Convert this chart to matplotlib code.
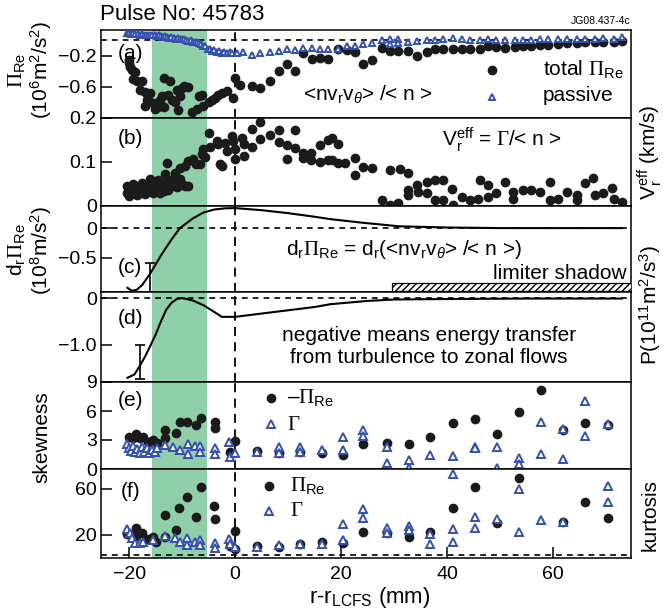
import matplotlib
matplotlib.use("Agg")
import matplotlib.pyplot as plt
from matplotlib.patches import Rectangle

plt.rcParams['font.family'] = ['Liberation Sans', 'DejaVu Sans']
plt.rcParams['mathtext.fontset'] = 'custom'
plt.rcParams['mathtext.rm'] = 'Liberation Sans'
plt.rcParams['mathtext.it'] = 'Liberation Sans:italic'
plt.rcParams['mathtext.bf'] = 'Liberation Sans:bold'
plt.rcParams['mathtext.cal'] = 'Liberation Serif'

# ---- data ----
# (a) total Reynolds stress
a_tot_x = [-20.1, -20.1, -19.8, -19.5, -18.9, -19.2, -18.6, -17.6, -17.9, -17.0, -16.0, -16.4, -16.7,
           -17.0, -15.4, -15.1, -14.5, -14.2, -13.5, -12.3, -13.8, -12.6, -11.9, -13.5, -11.0, -10.1,
           -9.7, -8.8, -11.3, -10.7, -10.4, -8.2, -7.2, -6.9, -6.3, -6.0, -5.0, -4.4, -3.8, -3.2, -2.5,
           -1.6, -0.3, 0.0, 0.9, 3.2, 4.7, 6.6, 8.2, 9.8, 11.3, 12.9, 14.5, 16.0, 17.6, 19.5, 21.1, 22.6,
           24.2, 25.8, 27.7, 29.2, 30.8, 32.7, 34.4, 36.2, 37.7, 39.3, 41.2, 42.8, 44.3, 46.2, 47.8, 49.3,
           50.9, 52.8, 54.4, 55.9, 57.5, 59.1, 61.0, 62.6, 64.5, 66.0, 67.9, 69.5, 71.4, 73.0]
a_tot_y = [-0.26, -0.30, -0.35, -0.38, -0.41, -0.50, -0.52, -0.52, -0.64, -0.66, -0.68, -0.72, -0.77,
           -0.84, -0.81, -0.88, -0.86, -0.77, -0.48, -0.52, -0.72, -0.70, -0.77, -0.86, -0.64, -0.61,
           -0.59, -0.60, -0.79, -0.90, -0.72, -0.92, -0.88, -0.72, -0.70, -0.84, -0.79, -0.77, -0.74,
           -0.70, -0.68, -0.65, -0.74, -0.48, -0.57, -0.59, -0.61, -0.53, -0.40, -0.31, -0.40, -0.17,
           -0.24, -0.23, -0.24, -0.11, -0.13, -0.15, -0.31, -0.26, -0.10, -0.14, -0.14, -0.14, -0.20,
           -0.15, -0.11, -0.12, -0.11, -0.12, -0.11, -0.11, -0.08, -0.09, -0.10, -0.09, -0.08, -0.08,
           -0.06, -0.06, -0.05, -0.04, -0.04, -0.02, -0.02, -0.02, -0.02, -0.01]
# (a) passive part
a_pas_x = [-20.4, -20.0, -19.6, -19.2, -18.8, -18.4, -18.0, -17.6, -17.2, -16.8, -16.4, -16.0, -15.6,
           -15.2, -14.8, -14.4, -14.0, -13.6, -13.2, -12.8, -12.4, -12.0, -11.6, -11.2, -10.8, -10.4,
           -10.0, -9.6, -9.2, -8.8, -8.4, -8.0, -7.6, -7.2, -6.8, -6.4, -6.0, -5.6, -5.2, -4.8, -4.4,
           -4.0, -3.5, -3.0, -2.5, -2.0, -1.5, -1.0, -0.5, 0.3, 1.5, 3.2, 4.7, 6.6, 8.2, 9.8, 11.3, 12.9,
           14.5, 16.0, 17.6, 19.5, 21.1, 22.6, 24.2, 25.8, 27.7, 29.2, 29.2, 30.8, 30.8, 32.7, 34.4, 36.2,
           37.7, 39.3, 41.2, 42.8, 44.3, 46.2, 47.8, 49.3, 50.9, 52.8, 54.4, 55.9, 57.5, 59.1, 61.0, 62.6,
           64.5, 66.0, 67.9, 69.5, 71.4, 73.0]
a_pas_y = [0.09, 0.09, 0.08, 0.09, 0.08, 0.08, 0.07, 0.08, 0.07, 0.07, 0.06, 0.07, 0.06, 0.06, 0.05,
           0.06, 0.05, 0.04, 0.05, 0.04, 0.03, 0.04, 0.03, 0.02, 0.03, 0.02, 0.01, 0.01, 0.00, -0.01,
           0.00, -0.02, -0.03, -0.02, -0.04, -0.05, -0.07, -0.08, -0.11, -0.12, -0.14, -0.13, -0.15,
           -0.14, -0.16, -0.15, -0.17, -0.15, -0.17, -0.16, -0.15, -0.19, -0.16, -0.15, -0.14, -0.12,
           -0.13, -0.10, -0.10, -0.11, -0.12, -0.11, -0.08, -0.07, -0.05, -0.04, 0.00, 0.02, -0.05, 0.01,
           -0.04, -0.02, -0.01, 0.00, 0.00, 0.01, 0.03, 0.01, 0.00, 0.00, 0.01, 0.00, 0.00, 0.00, 0.00,
           0.00, 0.01, 0.01, 0.02, 0.02, 0.02, 0.02, 0.02, 0.03, 0.02, 0.04]

# (b) effective radial velocity
b_x = [-20.4, -20.4, -20.1, -19.8, -19.6, -19.2, -18.9, -18.6, -18.3, -18.0, -17.6, -17.3, -17.0,
       -16.7, -16.4, -16.0, -15.7, -15.4, -15.1, -14.8, -14.5, -14.1, -13.8, -13.5, -13.2, -12.9,
       -12.6, -12.3, -11.9, -11.6, -11.3, -11.0, -10.4, -10.1, -9.4, -8.8,
       -12.9, -13.2, -11.3, -10.4, -9.4, -8.8, -7.9, -7.3, -6.6, -6.3, -6.0, -5.6, -4.7, -5.0, -3.5,
       -3.2, -2.8, -2.4, -1.9, -1.6, -0.6, -0.3, 0.0, 0.0, 1.3, 1.6, 1.6, 3.1, 3.1, 4.7, 4.7,
       6.6, 8.2, 8.2, 9.8, 9.8, 11.3, 11.3, 12.9, 12.9, 14.4, 14.4, 16.0, 16.0, 17.6, 17.6,
       18.2, 19.5, 18.2, 19.5, 20.8, 22.6, 22.6, 24.2, 25.8, 29.2, 31.1, 32.7, 27.7, 29.2, 30.8,
       32.7, 32.7, 34.3, 34.6, 36.2, 37.7, 39.3, 36.2, 37.7, 39.3, 40.9, 41.2, 42.8, 44.3, 45.9,
       46.2, 47.8, 47.8, 49.3, 50.9, 52.5, 52.5, 54.4, 55.9, 57.5, 59.4, 59.4, 61.0, 62.6, 64.5,
       64.5, 66.0, 67.6, 67.9, 69.5, 71.1, 71.4, 73.0]
b_y = [0.045, 0.030, 0.023, 0.038, 0.028, 0.049, 0.033, 0.024, 0.041, 0.030, 0.053, 0.038, 0.027,
       0.048, 0.035, 0.061, 0.041, 0.030, 0.051, 0.038, 0.059, 0.030, 0.045, 0.035, 0.053, 0.043,
       0.036, 0.057, 0.046, 0.063, 0.053, 0.043, 0.061, 0.050, 0.046, 0.046,
       0.098, 0.072, 0.076, 0.087, 0.091, 0.102, 0.106, 0.095, 0.095, 0.118, 0.129, 0.112, 0.133,
       0.167, 0.148, 0.140, 0.095, 0.092, 0.144, 0.125, 0.159, 0.148, 0.129, 0.106, 0.155, 0.140,
       0.114, 0.174, 0.133, 0.153, 0.191, 0.161, 0.173, 0.146, 0.139, 0.106, 0.173, 0.131, 0.120,
       0.108, 0.121, 0.105, 0.139, 0.101, 0.150, 0.105, 0.154, 0.142, 0.105, 0.097, 0.097, 0.108,
       0.070, 0.089, 0.086, 0.082, 0.083, 0.074, 0.014, 0.002, 0.006, 0.025, 0.036, 0.048, 0.032,
       0.055, 0.058, 0.058, 0.029, 0.014, 0.014, 0.038, 0.002, 0.020, 0.014, 0.017, 0.059, 0.048,
       0.021, 0.029, 0.055, 0.032, 0.017, 0.036, 0.036, 0.032, 0.055, 0.014, 0.017, 0.032, 0.025,
       0.014, 0.052, 0.063, 0.025, 0.029, 0.040, 0.017, 0.010]

# (c) radial derivative of Reynolds stress
c_x = [-20.3, -19.5, -18.5, -17.5, -16.0, -14.0, -12.0, -10.4, -8.0, -6.0, -4.0, -2.0, 0.0, 5.0,
       10.0, 15.0, 18.0, 24.0, 27.5, 31.0, 40.0, 50.0, 60.0, 73.0]
c_y = [-1.00, -1.05, -1.03, -0.95, -0.76, -0.46, -0.19, 0.00, 0.16, 0.26, 0.31, 0.33, 0.335, 0.30,
       0.25, 0.19, 0.15, 0.09, 0.06, 0.03, 0.01, 0.00, 0.00, 0.00]
c_err_x, c_err_y, c_err = -16.0, -0.83, 0.24

# (d) production term P
d_x = [-20.3, -19.0, -18.0, -17.0, -16.0, -15.0, -14.0, -13.0, -12.0, -11.0, -10.0, -8.0, -6.0,
       -4.0, -2.5, 0.0, 5.0, 10.0, 15.0, 18.0, 25.0, 30.0, 40.0, 55.0, 73.0]
d_y = [-1.70, -1.63, -1.45, -1.25, -1.02, -0.78, -0.50, -0.25, -0.10, -0.02, 0.00, -0.05, -0.15,
       -0.29, -0.40, -0.40, -0.33, -0.26, -0.19, -0.13, -0.06, -0.03, -0.02, -0.01, -0.01]
d_err_x, d_err_y, d_err = -17.9, -1.36, 0.36

# (e) skewness
e_pi_x = [-20.1, -19.2, -18.7, -17.9, -17.3, -16.4, -15.4, -14.8, -13.2, -13.2, -11.1, -10.4, -9.0,
          -7.4, -6.4, -3.8, -3.8, 0.0, -0.9, 4.1, 8.2, 12.3, 16.4, 20.3, 24.2, 28.6, 32.8, 36.8,
          41.1, 45.3, 49.5, 53.6, 57.7, 61.9, 66.1, 70.3]
e_pi_y = [3.34, 3.17, 3.62, 3.17, 3.34, 2.82, 3.00, 2.66, 4.03, 3.17, 3.69, 4.83, 4.89, 4.55, 5.31,
          4.89, 4.21, 2.90, 1.79, 1.86, 1.69, 1.79, 1.69, 1.45, 2.60, 2.72, 2.62, 3.34, 4.72, 5.17,
          3.62, 5.93, 8.17, 4.03, 4.79, 4.55]
e_g_x = [-20.3, -20.0, -19.6, -19.2, -18.9, -18.5, -18.0, -17.6, -17.2, -16.7, -16.2, -15.7, -15.2,
         -14.7, -13.2, -11.7, -10.4, -8.9, -8.9, -7.5, -6.6, -6.6, -3.8, -3.8, -1.1, -0.9, 0.0, 4.1,
         8.2, 8.2, 12.3, 12.3, 16.4, 20.3, 20.3, 24.2, 24.2, 28.6, 28.6, 32.8, 32.8, 36.8, 41.1, 45.3,
         45.3, 49.5, 49.5, 53.6, 53.6, 57.7, 57.7, 61.9, 61.9, 66.1, 66.1, 70.3]
e_g_y = [2.6, 2.2, 1.9, 2.4, 1.8, 2.1, 1.7, 2.3, 1.8, 2.2, 1.7, 2.0, 1.8, 2.2, 2.48, 2.31, 1.96, 2.59,
         1.55, 2.38, 2.38, 1.79, 2.14, 1.55, 2.82, 1.28, 1.69, 1.79, 2.31, 1.69, 2.31, 1.79, 1.96,
         3.34, 1.96, 4.03, 3.45, 2.31, 0.59, 0.93, 0.10, 1.45, 1.34, 2.24, 2.14, 2.31, 0.10, 1.10,
         0.52, 4.83, 1.55, 4.10, 1.03, 7.03, 3.41, 4.65]

# (f) kurtosis
f_pi_x = [-20.3, -19.5, -18.7, -17.6, -18.7, -16.5, -15.5, -14.9, -13.2, -13.3, -11.2, -10.5, -9.0,
          -7.4, -6.4, -3.9, -3.7, -0.9, 0.0, 0.0, 4.1, 8.2, 12.3, 16.4, 20.3, 24.2, 28.6, 32.8, 36.8,
          41.1, 45.3, 49.5, 53.6, 61.9, 66.1, 70.3]
f_pi_y = [20.8, 19.9, 25.7, 21.9, 19.0, 16.2, 18.4, 14.1, 18.4, 37.2, 24.2, 43.0, 52.5, 35.7, 61.2,
          45.2, 33.7, 10.4, 23.6, 7.5, 10.4, 9.8, 12.1, 14.1, 12.7, 22.2, 21.9, 18.4, 22.8, 43.0,
          61.2, 30.0, 68.9, 30.9, 48.4, 34.3]
f_g_x = [-20.3, -19.9, -19.5, -18.9, -17.9, -17.3, -15.4, -13.2, -11.3, -10.4, -9.0, -9.0, -7.5,
         -6.6, -6.6, -3.8, -3.8, -1.1, -0.9, 0.0, 4.1, 8.2, 12.3, 16.4, 20.3, 20.3, 24.2, 24.2, 28.6,
         28.6, 32.8, 32.8, 36.8, 36.8, 41.1, 41.1, 41.1, 45.3, 45.3, 49.5, 53.6, 53.6, 57.7, 61.9,
         70.3, 70.3]
f_g_y = [24.8, 22.0, 17.0, 12.7, 12.7, 14.1, 15.6, 19.3, 17.0, 14.1, 17.0, 11.2, 14.1, 15.6, 11.5,
         12.7, 8.4, 16.2, 12.1, 9.2, 9.2, 11.2, 12.1, 11.9, 29.4, 15.6, 42.4, 34.3, 25.7, 21.4, 27.7,
         24.2, 20.5, 12.1, 72.5, 24.8, 14.1, 35.7, 25.7, 33.7, 59.4, 22.8, 32.9, 30.9, 62.5, 48.2]

band = (-15.7, -5.3)
xlim = (-25.3, 74.7)
shadow_start = 29.6

# ---- figure ----
W, H = 663, 610
fig = plt.figure(figsize=(W / 100, H / 100), dpi=100)

def px_axes(top, bottom, left=101, right=631):
    return [left / W, 1 - bottom / H, (right - left) / W, (bottom - top) / H]

green = '#8fd0a9'
blue = '#3550b0'
black = '#1b1b1b'
fs = 14      # tick labels
fa = 15      # annotations and axis labels

panels = [(30, 118), (118, 206), (206, 292), (292, 382), (382, 469), (469, 558)]
axes = []
for i, (t, b) in enumerate(panels):
    ax = fig.add_axes(px_axes(t, b), sharex=axes[0] if axes else None)
    ax.axvspan(*band, color=green, lw=0, zorder=0)
    ax.axvline(0, color='black', lw=1.3, ls=(0, (5, 3.5)), zorder=1)
    ax.tick_params(axis='y', direction='in', length=8, width=1.1, labelsize=fs, pad=3, right=False)
    ax.tick_params(axis='x', direction='in', length=8, width=1.1, labelsize=fs, pad=6,
                   bottom=(i == 5), labelbottom=(i == 5), top=False)
    for s in ax.spines.values():
        s.set_linewidth(1.1)
    axes.append(ax)
axa, axb, axc, axd, axe, axf = axes
axa.set_xlim(*xlim)

dash = (0, (3.5, 3))
dot_kw = dict(marker='o', ls='none', ms=6.0, color=black, zorder=3)
tri_kw = dict(marker='^', ls='none', ms=5.4, mfc='white', mec=blue, mew=1.4, zorder=4)

# (a)
axa.axhline(0, color='black', lw=1.2, ls=dash, zorder=1)
axa.plot(a_tot_x, a_tot_y, **dot_kw)
axa.plot(a_pas_x, a_pas_y, **{**tri_kw, 'ms': 4.6})
axa.set_ylim(-1.0, 0.13)
axa.set_yticks([-0.2, -0.6])
axa.set_yticklabels(['\u22120.2', '\u22120.6'])
axa.text(0.055, 0.73, '(a)', transform=axa.transAxes, fontsize=fa, ha='center', va='center')
axa.plot([0.738], [0.545], transform=axa.transAxes, **dot_kw)
axa.plot([0.738], [0.24], transform=axa.transAxes, **{**tri_kw, 'ms': 4.6})
axa.text(0.834, 0.545, r'total $\mathcal{\Pi}_{\mathrm{Re}}$', transform=axa.transAxes, fontsize=fa,
         va='center')
axa.text(0.834, 0.26, 'passive', transform=axa.transAxes, fontsize=fa, va='center')
axa.text(0.381, 0.26, r'<nv$_\mathrm{r}$v$_\theta$> /< n >', transform=axa.transAxes, fontsize=fa,
         va='center')

# (b)
axb.plot(b_x, b_y, **dot_kw)
axb.set_ylim(0, 0.2)
axb.set_yticks([0, 0.1, 0.2])
axb.set_yticklabels(['0', '0.1', '0.2'])
axb.text(0.055, 0.77, '(b)', transform=axb.transAxes, fontsize=fa, ha='center', va='center')
axb.text(0.643, 0.75, r'$\mathrm{V}_\mathrm{r}^\mathrm{eff}$ = $\mathcal{\Gamma}$/< n >',
         transform=axb.transAxes, fontsize=fa, va='center')

# (c)
axc.axhline(0, color='black', lw=1.2, ls=dash, zorder=1)
axc.plot(c_x, c_y, color='black', lw=1.5, zorder=3)
axc.errorbar([c_err_x], [c_err_y], yerr=[c_err], color='black', lw=1.2, capsize=3.5, capthick=1.2)
axc.set_ylim(-1.07, 0.37)
axc.set_yticks([0, -0.5])
axc.set_yticklabels(['0', '\u22120.5'])
axc.text(0.055, 0.28, '(c)', transform=axc.transAxes, fontsize=fa, ha='center', va='center')
axc.text(0.35, 0.49, r'd$_\mathrm{r}\mathcal{\Pi}_\mathrm{Re}$ = d$_\mathrm{r}$(<nv$_\mathrm{r}$v$_\theta$> /< n >)',
         transform=axc.transAxes, fontsize=fa, va='center')
axc.text(0.992, 0.22, 'limiter shadow', transform=axc.transAxes, fontsize=fa, ha='right', va='center')
axc.add_patch(Rectangle((shadow_start, -1.05), xlim[1] - shadow_start, 0.133, facecolor='white',
                        edgecolor='black', hatch='/////', lw=0.9, zorder=4))

# (d)
axd.axhline(0, color='black', lw=1.2, ls=dash, zorder=1)
axd.plot(d_x, d_y, color='black', lw=1.5, zorder=3)
axd.errorbar([d_err_x], [d_err_y], yerr=[d_err], color='black', lw=1.2, capsize=3.5, capthick=1.2)
axd.set_ylim(-1.79, 0.13)
axd.set_yticks([0, -1.0])
axd.set_yticklabels(['0', '\u22121.0'])
axd.text(0.055, 0.71, '(d)', transform=axd.transAxes, fontsize=fa, ha='center', va='center')
axd.text(0.619, 0.39, 'negative means energy transfer\nfrom turbulence to zonal flows',
         transform=axd.transAxes, fontsize=fa, ha='center', va='center', linespacing=1.2)

# (e)
axe.plot(e_pi_x, e_pi_y, **dot_kw)
axe.plot(e_g_x, e_g_y, **tri_kw)
axe.set_ylim(0, 9)
axe.set_yticks([0, 3, 6, 9])
axe.text(0.055, 0.79, '(e)', transform=axe.transAxes, fontsize=fa, ha='center', va='center')
axe.plot([0.321], [0.816], transform=axe.transAxes, **dot_kw)
axe.plot([0.321], [0.517], transform=axe.transAxes, **tri_kw)
axe.text(0.351, 0.816, '\u2013' + r'$\mathcal{\Pi}_\mathrm{Re}$',
         transform=axe.transAxes, fontsize=fa, va='center')
axe.text(0.351, 0.517, r'$\mathcal{\Gamma}$', transform=axe.transAxes, fontsize=fa, va='center')

# (f)
axf.axhline(3, color='black', lw=1.2, ls=dash, zorder=1)
axf.plot(f_pi_x, f_pi_y, **dot_kw)
axf.plot(f_g_x, f_g_y, **tri_kw)
axf.set_ylim(0, 77)
axf.set_yticks([20, 60])
axf.set_xticks([-20, 0, 20, 40, 60])
axf.set_xticklabels(['\u221220', '0', '20', '40', '60'])
axf.text(0.055, 0.75, '(f)', transform=axf.transAxes, fontsize=fa, ha='center', va='center')
axf.plot([0.317], [0.81], transform=axf.transAxes, **dot_kw)
axf.plot([0.317], [0.53], transform=axf.transAxes, **tri_kw)
axf.text(0.356, 0.81, r'$\mathcal{\Pi}_\mathrm{Re}$', transform=axf.transAxes, fontsize=fa, va='center')
axf.text(0.356, 0.53, r'$\mathcal{\Gamma}$', transform=axf.transAxes, fontsize=fa, va='center')

# ---- outer labels ----
def ftext(x, y, s, **kw):
    fig.text(x / W, 1 - y / H, s, **kw)

ftext(100, 14, 'Pulse No: 45783', fontsize=16, va='center', ha='left')
ftext(630, 21, 'JG08.437-4c', fontsize=7.5, va='center', ha='right')
ftext(30, 70, r'$\mathcal{\Pi}_\mathrm{Re}$' + '\n' + r'(10$^6$m$^2$/s$^2$)', fontsize=fa,
      rotation=90, ha='center', va='center', multialignment='center', linespacing=1.0)
ftext(30, 250, r'd$_\mathrm{r}\mathcal{\Pi}_\mathrm{Re}$' + '\n' + r'(10$^8$m/s$^2$)', fontsize=fa,
      rotation=90, ha='center', va='center', multialignment='center', linespacing=1.0)
ftext(42, 437, 'skewness', fontsize=fa, rotation=90, ha='center', va='center')
ftext(650, 152, r'$\mathrm{V}_\mathrm{r}^\mathrm{eff}$ (km/s)', fontsize=fa, rotation=90,
      ha='center', va='center')
ftext(650, 305, r'P(10$^{11}$m$^2$/s$^3$)', fontsize=fa, rotation=90, ha='center', va='center')
ftext(650, 515, 'kurtosis', fontsize=fa, rotation=90, ha='center', va='center')
ftext(370, 597, r'r-r$_\mathrm{LCFS}$ (mm)', fontsize=16, ha='center', va='center')

fig.savefig('out.png', dpi=100)
